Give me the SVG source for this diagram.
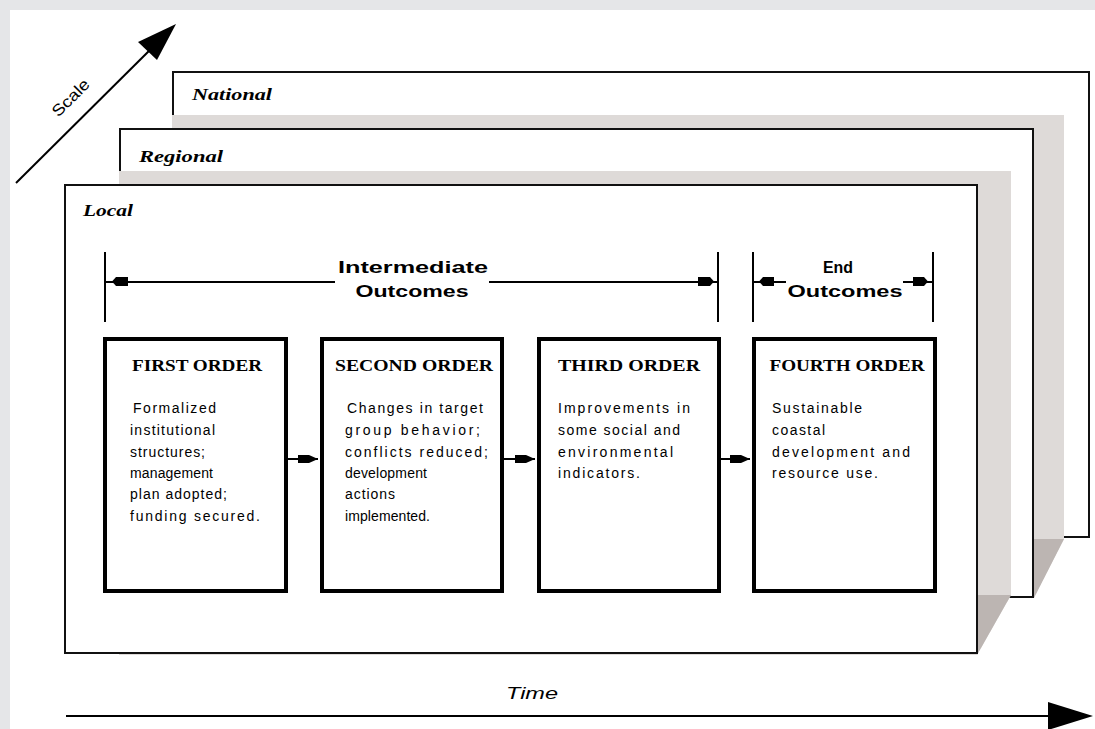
<svg xmlns="http://www.w3.org/2000/svg" width="1095" height="729" viewBox="0 0 1095 729">
<defs>
<style>
.sheet{fill:#fff;stroke:#111;stroke-width:2}
.shade{fill:#dedad8}
.shadeDark{fill:#bcb5b2}
.lvl{font-family:"Liberation Serif",serif;font-weight:bold;font-style:italic;font-size:16px;fill:#000}
.box{fill:#fff;stroke:#000;stroke-width:4}
.ttl{font-family:"Liberation Serif",serif;font-weight:bold;font-size:16px;fill:#000}
.body{font-family:"Liberation Sans",sans-serif;font-size:14px;fill:#000}
.hdr{font-family:"Liberation Sans",sans-serif;font-weight:bold;font-size:16px;fill:#000}
.ln{stroke:#000;stroke-width:2;fill:none}
.ah{fill:#000}
.axis{font-family:"Liberation Sans",sans-serif;font-size:16px;fill:#000}
</style>
</defs>
<rect x="0" y="0" width="1095" height="729" fill="#e5e6e8"/>
<rect x="10" y="10" width="1085" height="719" fill="#fff"/>

<g id="scale-axis">
<line class="ln" x1="16" y1="183" x2="160" y2="40"/>
<polygon class="ah" points="176,24 157,60 138,42"/>
<text class="axis" x="71" y="103" text-anchor="middle" transform="rotate(-45 71 98)" textLength="46" lengthAdjust="spacingAndGlyphs">Scale</text>
</g>

<g id="national">
<rect class="sheet" x="173" y="72" width="916" height="465"/>
<text class="lvl" x="192" y="100" textLength="80" lengthAdjust="spacingAndGlyphs">National</text>
</g>
<g id="national-shade">
<polygon class="shade" points="172,115 1064,115 1064,539 1034,597 172,597"/>
<polygon class="shadeDark" points="1034,539 1064,539 1034,598"/>
</g>

<g id="regional">
<rect class="sheet" x="120" y="129" width="913" height="468"/>
<text class="lvl" x="139" y="162" textLength="84" lengthAdjust="spacingAndGlyphs">Regional</text>
</g>
<g id="regional-shade">
<polygon class="shade" points="119,171 1011,171 1011,595 977,655 119,655"/>
<polygon class="shadeDark" points="977,595 1011,595 977,655"/>
</g>

<g id="local">
<rect class="sheet" x="65" y="185" width="912" height="468"/>
<text class="lvl" x="83" y="216" textLength="50" lengthAdjust="spacingAndGlyphs">Local</text>
</g>

<g id="intermediate-outcomes">
<line class="ln" x1="105" y1="252" x2="105" y2="322"/>
<line class="ln" x1="718" y1="252" x2="718" y2="322"/>
<line class="ln" x1="105" y1="282" x2="335" y2="282"/>
<line class="ln" x1="489" y1="282" x2="718" y2="282"/>
<polygon class="ah" points="112,281.5 116,277 128,277 128,286 116,286"/>
<polygon class="ah" points="698,277 710,277 714,281.5 710,286 698,286"/>
<text class="hdr" x="413" y="273" text-anchor="middle" textLength="150" lengthAdjust="spacingAndGlyphs">Intermediate</text>
<text class="hdr" x="412" y="297" text-anchor="middle" textLength="113" lengthAdjust="spacingAndGlyphs">Outcomes</text>
</g>

<g id="end-outcomes">
<line class="ln" x1="753" y1="252" x2="753" y2="322"/>
<line class="ln" x1="933" y1="252" x2="933" y2="322"/>
<line class="ln" x1="753" y1="282" x2="786" y2="282"/>
<line class="ln" x1="903" y1="282" x2="933" y2="282"/>
<polygon class="ah" points="759,281.5 763,277 774,277 774,286 763,286"/>
<polygon class="ah" points="913,277 924,277 928,281.5 924,286 913,286"/>
<text class="hdr" x="838" y="273" text-anchor="middle" textLength="30" lengthAdjust="spacingAndGlyphs">End</text>
<text class="hdr" x="845" y="297" text-anchor="middle" textLength="115" lengthAdjust="spacingAndGlyphs">Outcomes</text>
</g>

<g id="first-order">
<rect class="box" x="105" y="339" width="181" height="252"/>
<text class="ttl" x="197" y="371" text-anchor="middle" textLength="130" lengthAdjust="spacingAndGlyphs">FIRST ORDER</text>
<text class="body" x="133" y="413" textLength="83" lengthAdjust="spacing">Formalized</text>
<text class="body" x="130" y="435" textLength="85" lengthAdjust="spacing">institutional</text>
<text class="body" x="130" y="457" textLength="75" lengthAdjust="spacing">structures;</text>
<text class="body" x="130" y="478" textLength="83" lengthAdjust="spacing">management</text>
<text class="body" x="130" y="499" textLength="97" lengthAdjust="spacing">plan adopted;</text>
<text class="body" x="130" y="521" textLength="130" lengthAdjust="spacing">funding secured.</text>
</g>

<g id="second-order">
<rect class="box" x="322" y="339" width="180" height="252"/>
<text class="ttl" x="414" y="371" text-anchor="middle" textLength="158" lengthAdjust="spacingAndGlyphs">SECOND ORDER</text>
<text class="body" x="347" y="413" textLength="136" lengthAdjust="spacing">Changes in target</text>
<text class="body" x="345" y="435" textLength="135" lengthAdjust="spacing">group behavior;</text>
<text class="body" x="345" y="457" textLength="143" lengthAdjust="spacing">conflicts reduced;</text>
<text class="body" x="345" y="478" textLength="82" lengthAdjust="spacing">development</text>
<text class="body" x="345" y="499" textLength="50" lengthAdjust="spacing">actions</text>
<text class="body" x="345" y="521" textLength="85" lengthAdjust="spacing">implemented.</text>
</g>

<g id="third-order">
<rect class="box" x="539" y="339" width="180" height="252"/>
<text class="ttl" x="629" y="371" text-anchor="middle" textLength="142" lengthAdjust="spacingAndGlyphs">THIRD ORDER</text>
<text class="body" x="558" y="413" textLength="132" lengthAdjust="spacing">Improvements in</text>
<text class="body" x="558" y="435" textLength="122" lengthAdjust="spacing">some social and</text>
<text class="body" x="558" y="457" textLength="115" lengthAdjust="spacing">environmental</text>
<text class="body" x="558" y="478" textLength="82" lengthAdjust="spacing">indicators.</text>
</g>

<g id="fourth-order">
<rect class="box" x="754" y="339" width="181" height="252"/>
<text class="ttl" x="847" y="371" text-anchor="middle" textLength="155" lengthAdjust="spacingAndGlyphs">FOURTH ORDER</text>
<text class="body" x="772" y="413" textLength="90" lengthAdjust="spacing">Sustainable</text>
<text class="body" x="772" y="435" textLength="53" lengthAdjust="spacing">coastal</text>
<text class="body" x="772" y="457" textLength="138" lengthAdjust="spacing">development and</text>
<text class="body" x="772" y="478" textLength="106" lengthAdjust="spacing">resource use.</text>
</g>

<g id="connectors">
<line class="ln" x1="288" y1="459" x2="318" y2="459"/>
<polygon class="ah" points="298,455 309,455 318,459 309,463 298,463"/>
<line class="ln" x1="504" y1="459" x2="535" y2="459"/>
<polygon class="ah" points="515,455 526,455 535,459 526,463 515,463"/>
<line class="ln" x1="721" y1="459" x2="750" y2="459"/>
<polygon class="ah" points="730,455 741,455 750,459 741,463 730,463"/>
</g>

<g id="time-axis">
<line class="ln" x1="66" y1="716" x2="1050" y2="716"/>
<polygon class="ah" points="1048,702 1093,716 1048,730"/>
<text class="axis" x="532" y="699" text-anchor="middle" font-style="italic" textLength="52" lengthAdjust="spacingAndGlyphs">Time</text>
</g>
</svg>
